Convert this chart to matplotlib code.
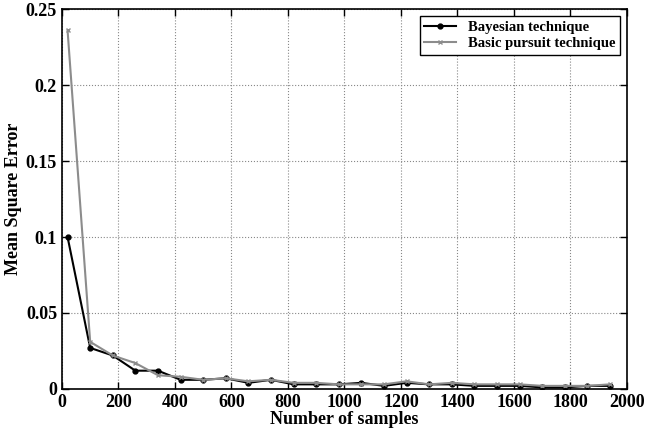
import matplotlib
matplotlib.use('Agg')
import matplotlib.pyplot as plt

samples = [20, 100, 180, 260, 340, 420, 500, 580, 660, 740, 820, 900, 980,
           1060, 1140, 1220, 1300, 1380, 1460, 1540, 1620, 1700, 1780, 1860, 1940]
bayes = [0.1, 0.027, 0.022, 0.012, 0.012, 0.006, 0.006, 0.007, 0.004, 0.006,
         0.003, 0.003, 0.003, 0.004, 0.002, 0.004, 0.003, 0.003, 0.002, 0.002,
         0.002, 0.001, 0.001, 0.002, 0.002]
pursuit = [0.236, 0.031, 0.022, 0.017, 0.009, 0.008, 0.006, 0.007, 0.005, 0.006,
           0.004, 0.004, 0.003, 0.003, 0.003, 0.005, 0.003, 0.004, 0.003, 0.003,
           0.003, 0.002, 0.002, 0.002, 0.003]

plt.rcParams['font.family'] = ['Liberation Serif', 'DejaVu Serif']
plt.rcParams['font.weight'] = 'bold'

fig = plt.figure(figsize=(6.45, 4.36), dpi=100)
ax = fig.add_axes([0.096, 0.108, 0.876, 0.871])

ax.plot(samples, bayes, '-', color='black', marker='o', markersize=3.5,
        linewidth=1.5, label='Bayesian technique')
ax.plot(samples, pursuit, '-', color='#8c8c8c', marker='x', markersize=3.5,
        linewidth=1.5, label='Basic pursuit technique')

ax.set_xlim(0, 2000)
ax.set_ylim(0, 0.25)
ax.set_xticks(range(0, 2001, 200))
ax.set_yticks([0, 0.05, 0.1, 0.15, 0.2, 0.25])
ax.set_yticklabels(['0', '0.05', '0.1', '0.15', '0.2', '0.25'])
ax.tick_params(direction='in', top=True, right=True, labelsize=13, length=5, width=1)
for lbl in ax.get_xticklabels() + ax.get_yticklabels():
    lbl.set_fontweight('bold')
ax.grid(True, linestyle=':', color='#888888', linewidth=0.8)
for s in ax.spines.values():
    s.set_linewidth(1.2)

ax.set_xlabel('Number of samples', fontsize=13, fontweight='bold', labelpad=0)
ax.set_ylabel('Mean Square Error', fontsize=13, fontweight='bold', labelpad=3)

leg = ax.legend(loc='upper right', fancybox=False, framealpha=1,
                edgecolor='black', handlelength=2.2, borderaxespad=0.5,
                borderpad=0.3, labelspacing=0.2, prop={'weight': 'bold', 'size': 10.5})
leg.get_frame().set_linewidth(1.0)

fig.savefig('out.png', dpi=100)
